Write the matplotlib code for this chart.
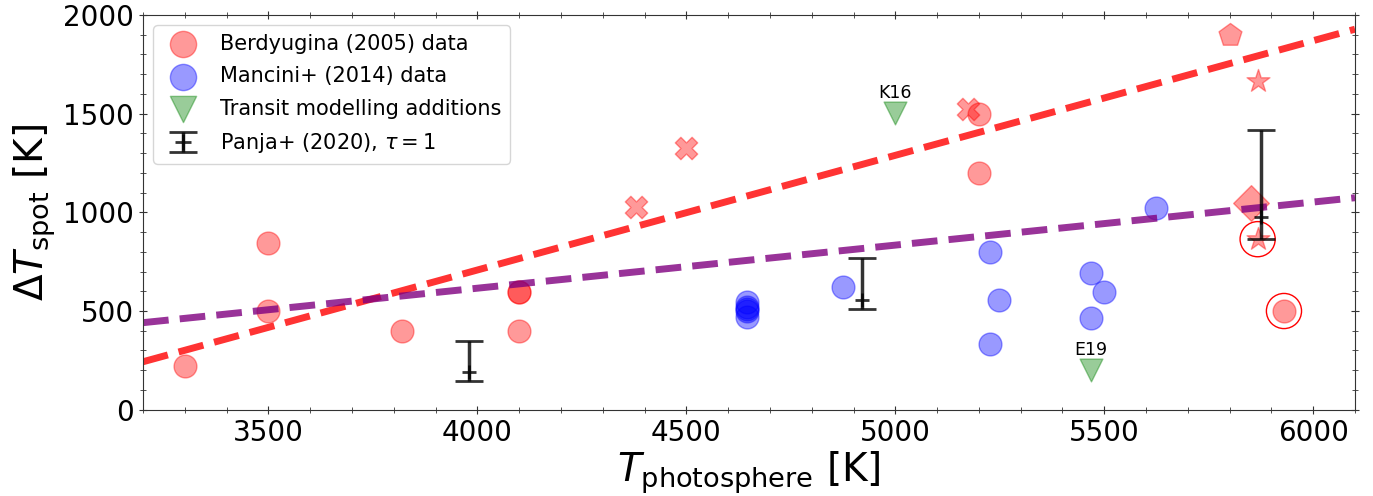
import matplotlib
matplotlib.use("Agg")
import matplotlib.pyplot as plt
from matplotlib.ticker import MultipleLocator

# Berdyugina (2005) points, split by marker shape
berd_circ_T = [3300, 3500, 3500, 3820, 4100, 4100, 4100, 5200, 5200, 5930]
berd_circ_dT = [220, 500, 846, 400, 598, 598, 400, 1500, 1200, 500]
berd_x_T = [4380, 4500, 5175]
berd_x_dT = [1026, 1325, 1522]
berd_diam_T = [5850]
berd_diam_dT = [1049]
berd_pent_T = [5800]
berd_pent_dT = [1899]
berd_star_T = [5867, 5867]
berd_star_dT = [1666, 864]
ring_T = [5867, 5930]
ring_dT = [864, 500]

# Mancini+ (2014)
manc_T = [4645, 4645, 4645, 4645, 4645, 4875, 5226, 5226, 5249, 5468, 5468, 5500, 5623]
manc_dT = [470, 500, 510, 520, 545, 623, 801, 333, 556, 691, 466, 598, 1024]

# transit modelling additions
tr_T = [5000, 5468]
tr_dT = [1502, 201]
tr_names = ["K16", "E19"]

# Panja+ (2020)
panja_T = [3980, 4920, 5876]
panja_dT = [190, 556, 978]
panja_lo = [147, 509, 867]
panja_hi = [348, 767, 1417]

# fitted trends (end points)
fit_T = [3200, 6100]
fit_red = [243, 1928]
fit_purple = [441, 1074]

fig = plt.figure(figsize=(13.73, 4.96), dpi=100)
ax = fig.add_axes([0.1042, 0.174, 0.8827, 0.7958])

ax.scatter(berd_circ_T, berd_circ_dT, s=270, color="red", alpha=0.4, label="Berdyugina (2005) data")
ax.scatter(manc_T, manc_dT, s=270, color="blue", alpha=0.4, label="Mancini+ (2014) data")
ax.scatter(tr_T, tr_dT, s=270, marker="v", color="green", alpha=0.4, label="Transit modelling additions")
ax.scatter(berd_x_T, berd_x_dT, s=260, marker="X", color="red", alpha=0.4)
ax.scatter(berd_diam_T, berd_diam_dT, s=330, marker="D", color="red", alpha=0.4)
ax.scatter(berd_pent_T, berd_pent_dT, s=300, marker="p", color="red", alpha=0.4)
ax.scatter(berd_star_T, berd_star_dT, s=300, marker="*", color="red", alpha=0.4)
ax.scatter(ring_T, ring_dT, s=640, facecolors="none", edgecolors="red", linewidths=1)

for t, d, name in zip(tr_T, tr_dT, tr_names):
    ax.text(t, d + 55, name, ha="center", va="bottom", fontsize=12.5)

ax.plot(fit_T, fit_red, "--", color="red", lw=5, alpha=0.8)
ax.plot(fit_T, fit_purple, "--", color="purple", lw=5, alpha=0.8)

yerr = [[c - l for c, l in zip(panja_dT, panja_lo)], [h - c for c, h in zip(panja_dT, panja_hi)]]
ax.errorbar(panja_T, panja_dT, yerr=yerr, fmt="+", color="k", alpha=0.8, capsize=10,
            capthick=2, elinewidth=2.5, ms=10, mew=2, label=r"Panja+ (2020), $\tau=1$")

ax.set_xlim(3200, 6100)
ax.set_ylim(0, 2000)
ax.xaxis.set_minor_locator(MultipleLocator(100))
ax.yaxis.set_minor_locator(MultipleLocator(100))
ax.tick_params(which="both", direction="inout", top=True, right=True, labelsize=20, color="#333333")
ax.tick_params(which="major", length=6)
ax.tick_params(which="minor", length=4)
for sp in ax.spines.values():
    sp.set_color("#333333")
ax.set_xlabel(r"$T_{\rm photosphere}$ [K]", fontsize=28, labelpad=2)
ax.set_ylabel(r"$\Delta T_{\rm spot}$ [K]", fontsize=28)
ax.legend(loc="upper left", fontsize=15, markerscale=1.15, labelspacing=0.6)

fig.savefig("out.png", dpi=100)
